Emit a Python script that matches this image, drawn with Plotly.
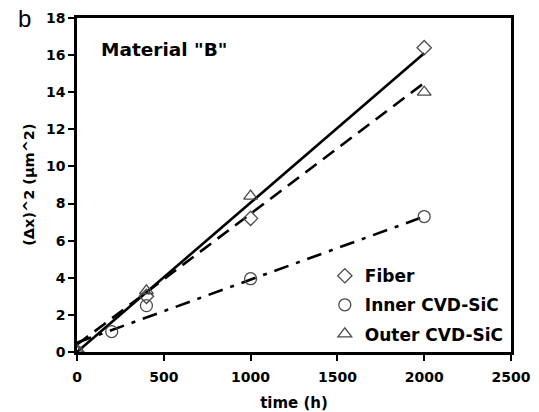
import plotly.graph_objects as go

# Measured points
fiber_t = [0, 400, 1000, 2000]
fiber_dx2 = [0.0, 3.0, 7.2, 16.4]

inner_t = [0, 200, 400, 1000, 2000]
inner_dx2 = [0.0, 1.1, 2.5, 3.95, 7.3]

outer_t = [0, 400, 1000, 2000]
outer_dx2 = [0.0, 3.3, 8.4, 14.0]

# Linear trend lines (end values at t = 0 and t = 2000 h)
fit_t = [0, 2000]
fiber_fit = [0.0, 16.1]
inner_fit = [0.5, 7.3]
outer_fit = [0.4, 14.5]

x_ticks = [0, 500, 1000, 1500, 2000, 2500]
y_ticks = [0, 2, 4, 6, 8, 10, 12, 14, 16, 18]

FONT = "DejaVu Sans, sans-serif"
mark_col = "#4a4a4a"

fig = go.Figure()

fig.add_trace(go.Scatter(x=fit_t, y=fiber_fit, mode="lines", showlegend=False,
                         line=dict(color="black", width=2.6)))
fig.add_trace(go.Scatter(x=fit_t, y=outer_fit, mode="lines", showlegend=False,
                         line=dict(color="black", width=2.6, dash="14px,8px")))
fig.add_trace(go.Scatter(x=fit_t, y=inner_fit, mode="lines", showlegend=False,
                         line=dict(color="black", width=2.6, dash="15px,8px,4px,8px")))

fig.add_trace(go.Scatter(x=fiber_t, y=fiber_dx2, mode="markers", name="Fiber",
                         legendgroup="a",
                         marker=dict(symbol="diamond-open", size=11, color=mark_col,
                                     line=dict(width=1.3))))
fig.add_trace(go.Scatter(x=inner_t, y=inner_dx2, mode="markers", name="Inner CVD-SiC",
                         legendgroup="b",
                         marker=dict(symbol="circle-open", size=12, color=mark_col,
                                     line=dict(width=1.3))))
fig.add_trace(go.Scatter(x=outer_t, y=outer_dx2, mode="markers", name="Outer CVD-SiC",
                         legendgroup="c",
                         marker=dict(symbol="triangle-up-open", size=12, color=mark_col,
                                     line=dict(width=1.3))))

axis_common = dict(showgrid=False, zeroline=False, showline=True, mirror=True,
                   linecolor="black", linewidth=2.5, ticks="outside", ticklen=6,
                   tickwidth=2, tickcolor="black", automargin=False,
                   tickfont=dict(family=FONT, size=14, color="black"))

fig.update_xaxes(range=[0, 2500], tickvals=x_ticks,
                 ticktext=[f"<b>{v}</b>" for v in x_ticks],
                 ticklabelstandoff=4,
                 title=dict(text="<b>time (h)</b>",
                            font=dict(family=FONT, size=15, color="black")),
                 **axis_common)
fig.update_yaxes(range=[0, 18], tickvals=y_ticks,
                 ticktext=[f"<b>{v}</b>" for v in y_ticks],
                 **axis_common)

# y-axis title
fig.add_annotation(xref="paper", yref="paper", x=-0.111, y=0.5, xanchor="center",
                   yanchor="middle", showarrow=False, textangle=-90,
                   text="<b>(\u0394x)^2 (\u03bcm^2)</b>",
                   font=dict(family=FONT, size=14.5, color="black"))
fig.add_annotation(xref="paper", yref="paper", x=0.05, y=0.907, xanchor="left",
                   yanchor="middle", showarrow=False,
                   text="<b>Material \"B\"</b>",
                   font=dict(family=FONT, size=18.5, color="black"))
fig.add_annotation(xref="paper", yref="paper", x=-0.14, y=1.045, xanchor="left",
                   yanchor="top", showarrow=False, text="b",
                   font=dict(family="Liberation Sans, Arial, sans-serif", size=24,
                             color="black"))

fig.update_layout(
    width=539, height=412,
    margin=dict(l=77, r=28, t=18, b=60),
    plot_bgcolor="white", paper_bgcolor="white",
    legend=dict(x=0.571, y=0.281, xanchor="left", yanchor="top",
                bgcolor="rgba(0,0,0,0)", traceorder="grouped", tracegroupgap=4,
                font=dict(family=FONT, size=17, color="black", weight="bold"),
                itemwidth=30),
)

fig.write_html("out.html")
